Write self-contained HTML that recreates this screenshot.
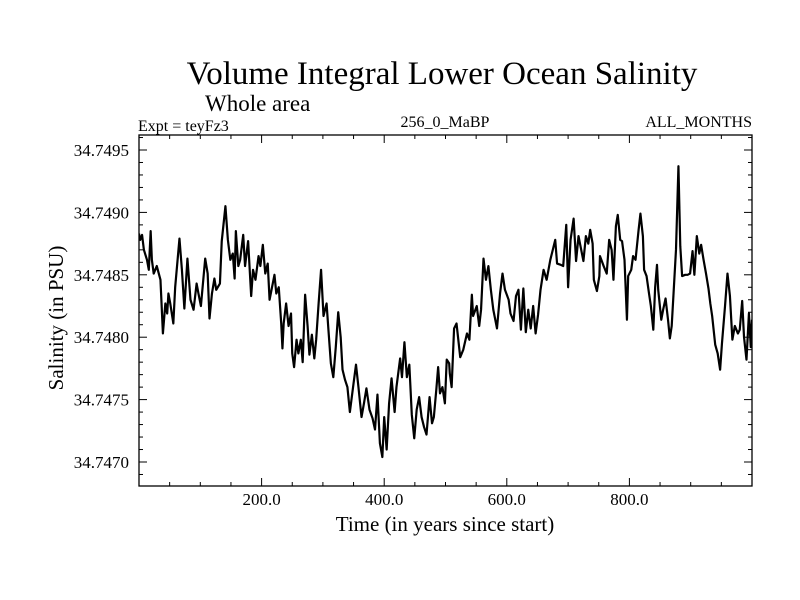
<!DOCTYPE html>
<html><head><meta charset="utf-8"><style>
body{margin:0;background:#fff;}
svg{display:block;font-family:"Liberation Serif",serif;}
</style></head><body>
<svg id="chart" width="800" height="600" viewBox="0 0 800 600">
<rect x="0" y="0" width="800" height="600" fill="#fff"/>
<text x="442" y="84" font-size="33" text-anchor="middle">Volume Integral Lower Ocean Salinity</text>
<text x="205" y="111" font-size="23">Whole area</text>
<text x="138" y="131" font-size="16">Expt = teyFz3</text>
<text x="445" y="127" font-size="16" text-anchor="middle">256_0_MaBP</text>
<text x="752" y="127" font-size="16" text-anchor="end">ALL_MONTHS</text>
<text x="445" y="531" font-size="21" text-anchor="middle">Time (in years since start)</text>
<text transform="translate(63,318) rotate(-90)" font-size="21" text-anchor="middle">Salinity (in PSU)</text>
<g id="ticks"></g>
<g id="labels"></g>
<defs><clipPath id="clip"><rect x="139" y="135" width="613" height="351"/></clipPath></defs>
<path id="line" fill="none" stroke="#000" stroke-width="2.2" stroke-linejoin="round" clip-path="url(#clip)"/>
<rect x="139" y="135" width="613" height="351" fill="none" stroke="#000" stroke-width="1.3"/>
</svg>
<script>
const years = [0,2,5,8,13,16,19,21,24,29,35,39,43,46,48,51,56,59,66,70,74,79,84,89,94,97,101,108,112,115,119,123,126,132,135,141,145,149,153,156,158,162,165,170,173,178,183,186,190,195,198,202,206,210,213,217,221,224,228,232,234,236,240,244,248,250,253,257,260,264,267,271,275,278,282,286,289,293,297,301,306,309,313,317,321,325,329,332,336,340,344,350,354,358,363,367,371,376,381,385,389,393,397,400,404,408,412,417,420,426,429,433,437,441,445,449,453,457,461,465,469,474,478,481,485,488,491,495,499,502,506,507,510,514,518,524,529,535,539,543,545,551,555,558,562,566,570,574,578,584,589,593,597,603,606,611,615,619,623,627,631,635,639,643,647,651,655,660,665,671,675,679,682,688,692,697,700,704,709,713,717,721,725,729,733,736,740,742,747,751,752,758,763,767,771,774,778,781,785,788,792,796,798,803,806,810,815,818,822,824,828,832,835,839,842,845,847,852,855,859,863,866,869,872,876,880,883,886,891,895,899,903,906,910,914,917,921,925,929,932,935,940,944,948,951,956,960,964,968,972,977,980,984,987,991,995,998,1000];
const salinity = [34.74883,34.74878,34.74882,34.74870,34.74862,34.74854,34.74885,34.74862,34.74851,34.74857,34.74846,34.74803,34.74827,34.74819,34.74835,34.74827,34.74811,34.74840,34.74879,34.74854,34.74823,34.74863,34.74830,34.74822,34.74843,34.74835,34.74825,34.74863,34.74851,34.74815,34.74835,34.74847,34.74838,34.74843,34.74877,34.74905,34.74878,34.74862,34.74867,34.74847,34.74885,34.74857,34.74862,34.74882,34.74857,34.74877,34.74833,34.74854,34.74846,34.74865,34.74857,34.74874,34.74851,34.74859,34.74830,34.74840,34.74850,34.74835,34.74840,34.74811,34.74791,34.74811,34.74827,34.74809,34.74819,34.74787,34.74776,34.74798,34.74787,34.74798,34.74780,34.74834,34.74809,34.74786,34.74802,34.74783,34.74798,34.74827,34.74854,34.74817,34.74827,34.74806,34.74779,34.74768,34.74792,34.74820,34.74800,34.74774,34.74766,34.74760,34.74740,34.74763,34.74778,34.74760,34.74736,34.74747,34.74759,34.74742,34.74735,34.74726,34.74754,34.74715,34.74704,34.74736,34.74710,34.74747,34.74767,34.74740,34.74760,34.74783,34.74768,34.74796,34.74768,34.74778,34.74738,34.74719,34.74742,34.74752,34.74736,34.74728,34.74722,34.74752,34.74731,34.74736,34.74758,34.74776,34.74755,34.74760,34.74747,34.74782,34.74779,34.74771,34.74760,34.74807,34.74811,34.74784,34.74790,34.74803,34.74798,34.74834,34.74817,34.74825,34.74809,34.74822,34.74863,34.74846,34.74857,34.74838,34.74822,34.74807,34.74835,34.74851,34.74838,34.74830,34.74819,34.74813,34.74833,34.74838,34.74806,34.74839,34.74804,34.74822,34.74807,34.74825,34.74803,34.74818,34.74838,34.74854,34.74846,34.74862,34.74870,34.74878,34.74859,34.74858,34.74857,34.74890,34.74840,34.74878,34.74895,34.74861,34.74881,34.74871,34.74861,34.74881,34.74875,34.74886,34.74875,34.74846,34.74837,34.74849,34.74865,34.74857,34.74851,34.74878,34.74870,34.74846,34.74889,34.74898,34.74878,34.74877,34.74862,34.74814,34.74849,34.74854,34.74865,34.74862,34.74886,34.74899,34.74881,34.74854,34.74849,34.74835,34.74825,34.74806,34.74840,34.74858,34.74838,34.74814,34.74822,34.74831,34.74814,34.74799,34.74809,34.74835,34.74870,34.74937,34.74873,34.74849,34.74850,34.74850,34.74851,34.74869,34.74850,34.74881,34.74867,34.74874,34.74862,34.74851,34.74839,34.74827,34.74817,34.74794,34.74787,34.74774,34.74795,34.74825,34.74851,34.74833,34.74798,34.74809,34.74803,34.74806,34.74829,34.74800,34.74782,34.74819,34.74792,34.74814];
const xTickValues = [200,400,600,800];
const xTickLabels = ["200.0","400.0","600.0","800.0"];
const yTickValues = [34.7470,34.7475,34.7480,34.7485,34.7490,34.7495];
const yTickLabels = ["34.7470","34.7475","34.7480","34.7485","34.7490","34.7495"];

const PX0=139, PX1=752, PY0=135, PY1=486;
const XMIN=0, XMAX=1000;
function xs(v){return PX0+(v-XMIN)/(XMAX-XMIN)*(PX1-PX0);}
function ys(v){return 462-(v-34.7470)/0.0025*312;}
const NS='http://www.w3.org/2000/svg';
const tk=document.getElementById('ticks'), lb=document.getElementById('labels');
function ln(x1,y1,x2,y2,name){
  const l=document.createElementNS(NS,'line');
  l.setAttribute('x1',x1);l.setAttribute('y1',y1);l.setAttribute('x2',x2);l.setAttribute('y2',y2);
  l.setAttribute('stroke','#000');l.setAttribute('stroke-width','1');
  
  
  tk.appendChild(l);
}
for(let v=50; v<XMAX; v+=50){
  const major = v%200===0; const len = major?8:4; const x=xs(v);
  ln(x,PY1,x,PY1-len,'x-tick');
  ln(x,PY0,x,PY0+len,'x-tick-top');
}
for(let i=-2;i<=27;i++){
  const v=34.7470+i*0.0001; const y=ys(v);
  if(y<PY0+1||y>PY1-1) continue;
  const len = (i%5===0)?8:4;
  ln(PX0,y,PX0+len,y,'y-tick');
  ln(PX1,y,PX1-len,y,'y-tick-right');
}
xTickValues.forEach((v,i)=>{
  const t=document.createElementNS(NS,'text');
  t.setAttribute('x',xs(v));t.setAttribute('y',505);t.setAttribute('font-size','17');t.setAttribute('text-anchor','middle');
  t.textContent=xTickLabels[i];
  
  
  lb.appendChild(t);
});
yTickValues.forEach((v,i)=>{
  const t=document.createElementNS(NS,'text');
  t.setAttribute('x',129);t.setAttribute('y',ys(v)+6);t.setAttribute('font-size','17');t.setAttribute('text-anchor','end');
  t.textContent=yTickLabels[i];
  
  
  lb.appendChild(t);
});
let d='';
years.forEach((yr,i)=>{d+=(i?'L':'M')+xs(yr).toFixed(2)+','+ys(salinity[i]).toFixed(2);});
document.getElementById('line').setAttribute('d',d);
</script>
</body></html>
